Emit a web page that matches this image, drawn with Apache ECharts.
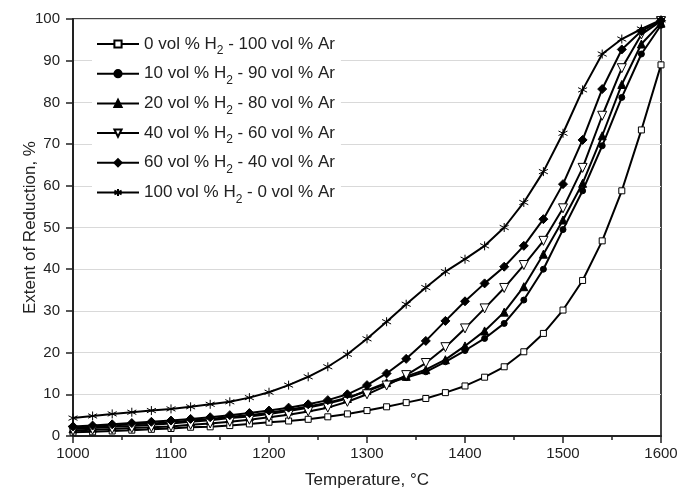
<!DOCTYPE html>
<html>
<head>
<meta charset="utf-8">
<script src="https://cdn.jsdelivr.net/npm/echarts@6/dist/echarts.min.js"></script>
<style>
  html, body { margin: 0; padding: 0; background: #fff; }
  #main { width: 678px; height: 493px; }
</style>
</head>
<body>
<div id="main"></div>
<script>
var temps = [1000, 1020, 1040, 1060, 1080, 1100, 1120, 1140, 1160, 1180, 1200,
  1220, 1240, 1260, 1280, 1300, 1320, 1340, 1360, 1380, 1400,
  1420, 1440, 1460, 1480, 1500, 1520, 1540, 1560, 1580, 1600];

var h0 = [0.9, 1.0, 1.2, 1.4, 1.6, 1.8, 2.1, 2.2, 2.5, 2.9, 3.3,
  3.6, 4.0, 4.6, 5.3, 6.1, 7.0, 8.0, 9.0, 10.4, 12.0,
  14.1, 16.6, 20.2, 24.6, 30.2, 37.3, 46.8, 58.8, 73.4, 89.0];
var h10 = [2.0, 2.2, 2.5, 2.8, 3.0, 3.3, 3.7, 4.1, 4.6, 5.0, 5.6,
  6.3, 7.1, 8.0, 9.2, 10.8, 12.5, 14.0, 15.4, 17.8, 20.5,
  23.4, 27.0, 32.6, 40.0, 49.5, 58.8, 69.6, 81.2, 91.6, 98.5];
var h20 = [1.7, 1.9, 2.2, 2.4, 2.7, 3.0, 3.4, 3.8, 4.3, 4.7, 5.3,
  6.0, 6.8, 7.8, 9.0, 10.9, 12.8, 14.3, 15.9, 18.3, 21.6,
  25.2, 29.7, 35.8, 43.6, 51.8, 60.6, 72.0, 84.3, 94.0, 99.0];
var h40 = [1.3, 1.5, 1.7, 1.9, 2.1, 2.3, 2.7, 3.0, 3.4, 3.9, 4.5,
  5.1, 5.9, 6.8, 8.2, 10.0, 12.1, 14.6, 17.5, 21.3, 25.8,
  30.6, 35.5, 41.0, 46.8, 54.6, 64.3, 76.8, 88.2, 96.3, 99.5];
var h60 = [2.3, 2.5, 2.8, 3.1, 3.4, 3.7, 4.1, 4.5, 5.0, 5.5, 6.1,
  6.8, 7.6, 8.6, 10.0, 12.2, 15.0, 18.5, 22.8, 27.6, 32.3,
  36.6, 40.6, 45.6, 52.0, 60.4, 71.0, 83.2, 92.7, 97.1, 99.6];
var h100 = [4.3, 4.8, 5.3, 5.7, 6.1, 6.5, 7.0, 7.6, 8.2, 9.2, 10.5,
  12.2, 14.2, 16.6, 19.6, 23.3, 27.4, 31.6, 35.6, 39.4, 42.4,
  45.6, 50.0, 56.0, 63.4, 72.6, 83.0, 91.6, 95.2, 97.6, 99.8];

var names = [
  '0 vol % H{sub|2} - 100 vol % Ar',
  '10 vol % H{sub|2} - 90 vol % Ar',
  '20 vol % H{sub|2} - 80 vol % Ar',
  '40 vol % H{sub|2} - 60 vol % Ar',
  '60 vol % H{sub|2} - 40 vol % Ar',
  '100 vol % H{sub|2} - 0 vol % Ar'
];

var star = 'path://M5,0L5,10M0.67,2.5L9.33,7.5M0.67,7.5L9.33,2.5';

function pairs(vals) {
  return temps.map(function (t, i) { return [t, vals[i]]; });
}

function mk(name, vals, symbol, size, fill, rotate) {
  return {
    name: name,
    type: 'line',
    data: pairs(vals),
    symbol: symbol,
    symbolSize: size,
    symbolRotate: rotate || 0,
    showSymbol: true,
    lineStyle: { color: '#000', width: 2 },
    itemStyle: { color: fill, borderColor: '#000', borderWidth: 1 },
    emphasis: { disabled: true },
    z: 3
  };
}

var font = 'Arial, "Liberation Sans", sans-serif';

var myChart = echarts.init(document.getElementById('main'));
var option = {
  animation: false,
  backgroundColor: '#fff',
  grid: {
    left: 73, right: 17, top: 19, bottom: 57,
    outerBoundsMode: 'none',
    show: true, borderColor: '#444', borderWidth: 2
  },
  legend: {
    orient: 'vertical',
    left: 92, top: 29,
    padding: [2, 6, 2, 4],
    backgroundColor: '#fff',
    itemWidth: 42, itemHeight: 9, itemGap: 3.7,
    textStyle: {
      fontFamily: font, fontSize: 17, color: '#222', lineHeight: 20,
      rich: { sub: { fontSize: 12, fontFamily: font, color: '#222', lineHeight: 20, padding: [14, 0, 0, 0] } }
    },
    data: names
  },
  xAxis: {
    type: 'value',
    min: 1000, max: 1600, interval: 100,
    name: 'Temperature, °C',
    nameLocation: 'middle',
    nameGap: 36,
    nameMoveOverlap: false,
    nameTextStyle: { fontFamily: font, fontSize: 17, color: '#222' },
    axisLine: { lineStyle: { color: '#222', width: 2 } },
    axisTick: { inside: false, length: 7, lineStyle: { color: '#222', width: 1.5 } },
    minorTick: { show: true, splitNumber: 2, length: 4, lineStyle: { color: '#222', width: 1.5 } },
    axisLabel: { fontFamily: font, fontSize: 15, color: '#222', margin: 10, formatter: function (v) { return String(v); } },
    splitLine: { show: false }
  },
  yAxis: {
    type: 'value',
    min: 0, max: 100, interval: 10,
    name: 'Extent of Reduction, %',
    nameLocation: 'middle',
    nameGap: 34,
    nameMoveOverlap: false,
    nameTextStyle: { fontFamily: font, fontSize: 17, color: '#222' },
    axisLine: { lineStyle: { color: '#222', width: 2 } },
    axisTick: { inside: false, length: 7, lineStyle: { color: '#222', width: 1.5 } },
    axisLabel: { fontFamily: font, fontSize: 15, color: '#222', margin: 13 },
    splitLine: { show: true, lineStyle: { color: '#d9d9d9', width: 1 } }
  },
  series: [
    mk(names[0], h0, 'rect', 6, '#fff'),
    mk(names[1], h10, 'circle', 6, '#000'),
    mk(names[2], h20, 'triangle', 8, '#000'),
    mk(names[3], h40, 'triangle', 9, '#fff', 180),
    mk(names[4], h60, 'diamond', 9, '#000'),
    mk(names[5], h100, star, 9, 'none')
  ]
};
myChart.setOption(option);
</script>
</body>
</html>
